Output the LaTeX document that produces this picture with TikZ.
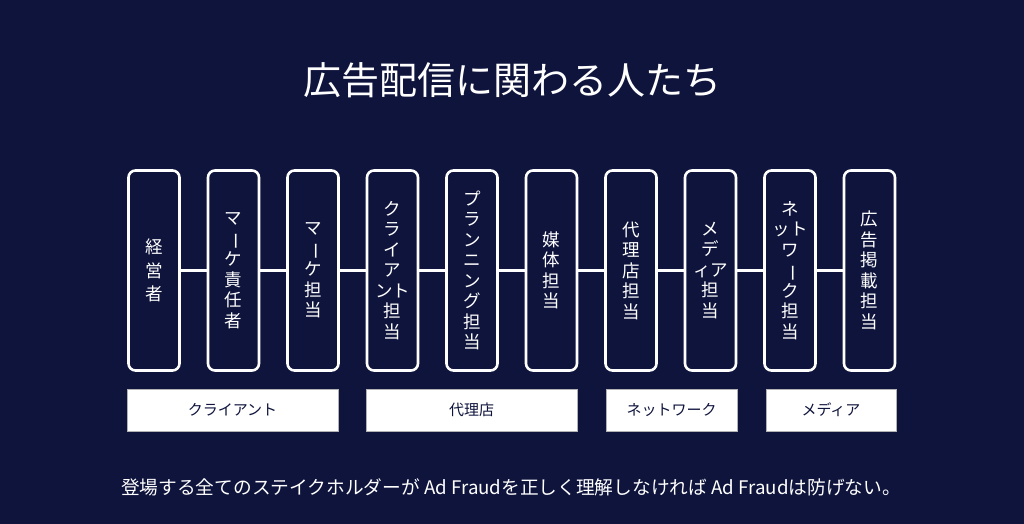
\documentclass[tikz,border=0pt]{standalone}
\usepackage{fontspec}
\usepackage{graphicx}
\newfontfamily\cjk{Noto Sans CJK JP}
\usetikzlibrary{positioning}
\definecolor{navybg}{HTML}{0F143C}
\tikzset{
	rolebox/.style={draw=white, line width=2.6pt, rounded corners=7pt, minimum width=51pt,
	  minimum height=200pt, inner sep=0pt, outer sep=0pt, text=white, align=center,
	  font=\cjk\fontsize{17.5}{20.5}\selectfont}
}
\tikzset{
	grouplabel/.style={draw=gray!60, fill=white, line width=0.8pt, minimum height=42pt,
	  inner sep=0pt, text=navybg, font=\cjk\fontsize{15}{17}\selectfont}
}
\tikzset{
	link/.style={draw=white, line width=2.6pt}
}
\newcommand{\vbar}{\rotatebox[origin=c]{-90}{ー}}

\begin{document}
\begin{tikzpicture}[x=1pt, y=1pt]
      \fill[navybg] (0,-524) rectangle (1024,0);
      \useasboundingbox (0,-524) rectangle (1024,0);
      \node[text=white, font=\cjk\fontsize{38}{40}\selectfont] (title) at (512,-80) {広告配信に関わる人たち};
      % role boxes, left to right
      \node[rolebox] (b1) at (154,-270.5) {経\\[3pt]営\\[3pt]者};
      \node[rolebox, right=28.5pt of b1] (b2) {マ\\\vbar\\ケ\\責\\任\\者};
      \node[rolebox, right=28.5pt of b2] (b3) {マ\\\vbar\\ケ\\担\\当};
      \node[rolebox, right=28.5pt of b3] (b4) {ク\\ラ\\イ\\ア\\ント\\担\\当};
      \node[rolebox, right=28.5pt of b4] (b5) {プ\\ラ\\ン\\ニ\\ン\\グ\\担\\当};
      \node[rolebox, right=28.5pt of b5] (b6) {媒\\体\\担\\当};
      \node[rolebox, right=28.5pt of b6] (b7) {代\\理\\店\\担\\当};
      \node[rolebox, right=28.5pt of b7] (b8) {メ\\デ\\ィア\\担\\当};
      \node[rolebox, right=28.5pt of b8] (b9) {ネ\\ット\\ワ\\\vbar\\ク\\担\\当};
      \node[rolebox, right=28.5pt of b9] (b10) {広\\告\\掲\\載\\担\\当};
      \draw[link] (b1) -- (b2);
      \draw[link] (b2) -- (b3);
      \draw[link] (b3) -- (b4);
      \draw[link] (b4) -- (b5);
      \draw[link] (b5) -- (b6);
      \draw[link] (b6) -- (b7);
      \draw[link] (b7) -- (b8);
      \draw[link] (b8) -- (b9);
      \draw[link] (b9) -- (b10);
      % groups under the boxes
      \node[grouplabel, minimum width=211pt] (gclient) at (232.5,-410) {クライアント};
      \node[grouplabel, minimum width=211pt] (gagency) at (471.5,-410) {代理店};
      \node[grouplabel, minimum width=131pt] (gnetwork) at (671.5,-410) {ネットワーク};
      \node[grouplabel, minimum width=130pt] (gmedia) at (831,-410) {メディア};
      \node[text=white, font=\cjk\fontsize{18.7}{20}\selectfont] (note) at (511,-487)
        {登場する全てのステイクホルダーが Ad Fraudを正しく理解しなければ Ad Fraudは防げない。};
    \end{tikzpicture}
\end{document}
